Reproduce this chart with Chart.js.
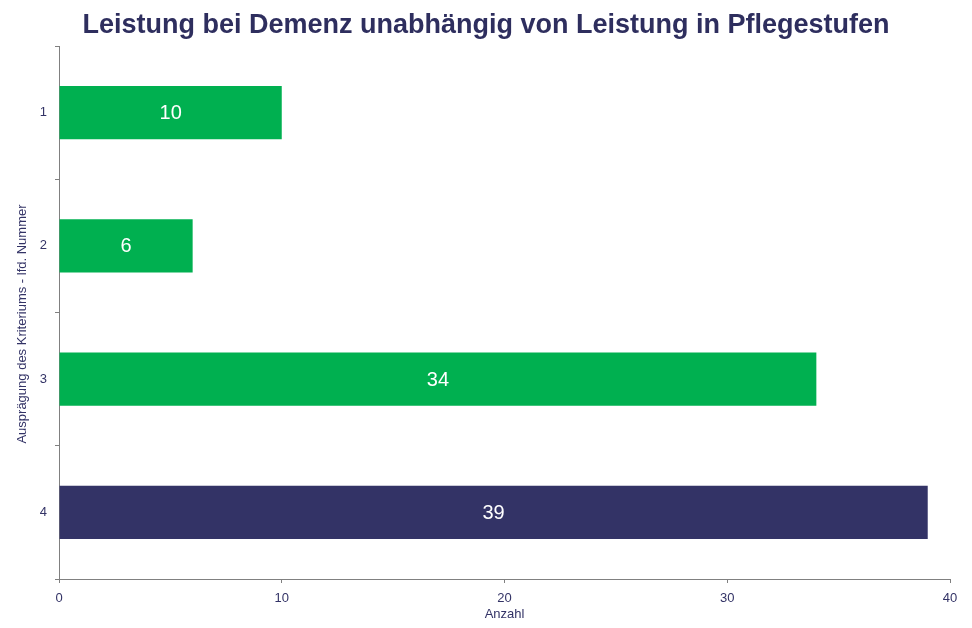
<!DOCTYPE html>
<html>
<head>
<meta charset="utf-8">
<script src="https://cdn.jsdelivr.net/npm/chart.js@4"></script>
<style>
  html, body { margin: 0; padding: 0; background: #fff; }
  #chartHolder { width: 972px; height: 628px; }
</style>
</head>
<body>
<div id="chartHolder"><canvas id="chart"></canvas></div>
<script>
// Chart data
const categories = ['1', '2', '3', '4'];
const counts = [10, 6, 34, 39];
const barColors = ['#00B050', '#00B050', '#00B050', '#333366'];
const xTicks = [0, 10, 20, 30, 40];

const chartTitle = 'Leistung bei Demenz unabhängig von Leistung in Pflegestufen';
const yTitle = 'Ausprägung des Kriteriums - lfd. Nummer';

const textColor = '#333366';
const axisColor = '#808080';
const fontFamily = '"Liberation Sans", Arial, sans-serif';

// Draw the value in the middle of every bar
const valueLabels = {
    id: 'valueLabels',
    afterDatasetsDraw(chart) {
        const ctx = chart.ctx;
        const meta = chart.getDatasetMeta(0);
        ctx.save();
        ctx.fillStyle = '#FFFFFF';
        ctx.font = '20px ' + fontFamily;
        ctx.textAlign = 'center';
        ctx.textBaseline = 'middle';
        meta.data.forEach(function (bar, i) {
            const cx = (bar.x + bar.base) / 2;
            ctx.fillText(String(counts[i]), cx, bar.y + 1);
        });
        ctx.restore();
    }
};

// Main title centred on the page, y-axis title a bit below the middle of the axis
const titles = {
    id: 'titles',
    afterDraw(chart) {
        const ctx = chart.ctx;
        ctx.save();
        ctx.textAlign = 'center';
        ctx.textBaseline = 'middle';
        ctx.fillStyle = '#2E2E5E';
        ctx.font = 'bold 27px ' + fontFamily;
        ctx.fillText(chartTitle, chart.width / 2, 26);

        ctx.fillStyle = textColor;
        ctx.font = '13px ' + fontFamily;
        ctx.translate(22, 324);
        ctx.rotate(-Math.PI / 2);
        ctx.fillText(yTitle, 0, 0);
        ctx.restore();
    }
};

Chart.defaults.font.family = fontFamily;
Chart.defaults.color = textColor;

new Chart(document.getElementById('chart').getContext('2d'), {
    type: 'bar',
    data: {
        labels: categories,
        datasets: [{
            data: counts,
            backgroundColor: barColors,
            barPercentage: 0.4,
            categoryPercentage: 1
        }]
    },
    options: {
        indexAxis: 'y', // horizontal bars
        responsive: true,
        maintainAspectRatio: false,
        animation: false,
        layout: {
            padding: { left: 0, right: 22, top: 46, bottom: 0 }
        },
        scales: {
            x: {
                min: 0,
                max: 40,
                afterBuildTicks: function (scale) {
                    scale.ticks = xTicks.map(v => ({ value: v }));
                },
                afterFit: function (scale) {
                    scale.height = 49;
                },
                grid: {
                    drawOnChartArea: false,
                    drawTicks: true,
                    tickLength: 4,
                    color: axisColor
                },
                border: { color: axisColor, width: 1 },
                ticks: {
                    padding: 8,
                    font: { size: 13 },
                    color: textColor
                },
                title: {
                    display: true,
                    text: 'Anzahl',
                    font: { size: 13 },
                    color: textColor,
                    padding: { top: 0, bottom: 6 }
                }
            },
            y: {
                afterFit: function (scale) {
                    scale.width = 59;
                },
                grid: {
                    offset: true,
                    drawOnChartArea: false,
                    drawTicks: true,
                    tickLength: 4,
                    color: axisColor
                },
                border: { color: axisColor, width: 1 },
                ticks: {
                    padding: 8,
                    font: { size: 13 },
                    color: textColor
                },
                title: { display: false }
            }
        },
        plugins: {
            legend: { display: false },
            tooltip: { enabled: false },
            title: { display: false }
        }
    },
    plugins: [valueLabels, titles]
});
</script>
</body>
</html>
